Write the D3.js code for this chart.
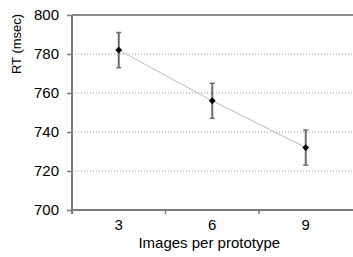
<!DOCTYPE html>
<html lang="en">
<head>
<meta charset="UTF-8">
<title>RT by images per prototype</title>
<script src="https://d3js.org/d3.v7.min.js"></script>
<style>
    body { margin: 0; background: #fff; }
    svg { display: block; font-family: "Liberation Sans", Arial, sans-serif; }
</style>
</head>
<body>
<div id="chart"></div>
<script>
    // data
    const categories = ["3", "6", "9"];
    const rt = [782, 756, 732];
    const errLow = [773, 747, 723];
    const errHigh = [791, 765, 741];
    const yTicks = [700, 720, 740, 760, 780, 800];

    const width = 353, height = 257;
    const margin = { top: 15, right: 0, bottom: 47, left: 72 };

    const svg = d3.select("#chart").append("svg")
        .attr("width", width).attr("height", height);

    const x = d3.scaleBand()
        .domain(categories)
        .range([margin.left, width - 0.5]);

    const y = d3.scaleLinear()
        .domain([700, 800])
        .range([height - margin.bottom, margin.top]);

    const axisColor = "#7a7a7a";

    // dotted grid lines
    svg.append("g")
        .selectAll("line")
        .data(yTicks.filter(d => d > 700 && d < 800))
        .enter().append("line")
        .attr("x1", margin.left).attr("x2", width)
        .attr("y1", d => y(d)).attr("y2", d => y(d))
        .attr("stroke", "#999")
        .attr("stroke-width", 1)
        .attr("stroke-dasharray", "1,2");

    // top frame line
    svg.append("line")
        .attr("x1", margin.left).attr("x2", width)
        .attr("y1", y(800)).attr("y2", y(800))
        .attr("stroke", "#8a8a8a")
        .attr("stroke-width", 2);

    // y axis
    const yAxis = svg.append("g")
        .attr("transform", `translate(${margin.left},0)`)
        .call(d3.axisLeft(y).tickValues(yTicks).tickSize(5).tickPadding(8).tickFormat(d3.format("d")));
    yAxis.select(".domain").attr("stroke", axisColor).attr("stroke-width", 2)
        .attr("d", `M0,${y(800)}V${y(700) + 4}`);
    yAxis.selectAll(".tick line").attr("stroke", axisColor).attr("stroke-width", 1.5);
    yAxis.selectAll(".tick text").attr("font-size", 15).attr("fill", "#000");

    // x axis, ticks between categories
    const xAxis = svg.append("g")
        .attr("transform", `translate(0,${y(700)})`)
        .call(d3.axisBottom(x).tickSize(0).tickPadding(9));
    xAxis.select(".domain").attr("stroke", axisColor).attr("stroke-width", 2)
        .attr("d", `M${margin.left},0H${width}`);
    xAxis.selectAll(".tick text").attr("font-size", 15).attr("fill", "#000");
    xAxis.selectAll(".sep")
        .data(categories.slice(1))
        .enter().append("line")
        .attr("class", "sep")
        .attr("x1", d => x(d)).attr("x2", d => x(d))
        .attr("y1", 0).attr("y2", 4)
        .attr("stroke", axisColor).attr("stroke-width", 1.5);

    // axis titles
    svg.append("text")
        .attr("x", x("6") + x.bandwidth() / 2 - 3)
        .attr("y", 248)
        .attr("text-anchor", "middle")
        .attr("font-size", 15)
        .text("Images per prototype");

    svg.append("text")
        .attr("transform", "translate(21,44) rotate(-90)")
        .attr("text-anchor", "middle")
        .attr("font-size", 13)
        .text("RT (msec)");

    const cx = i => x(categories[i]) + x.bandwidth() / 2;

    // connecting line
    svg.append("path")
        .datum(rt)
        .attr("fill", "none")
        .attr("stroke", "#bdbdbd")
        .attr("stroke-width", 1)
        .attr("d", d3.line().x((d, i) => cx(i)).y(d => y(d)));

    // error bars
    const eb = svg.append("g").attr("stroke", "#6e6e6e").attr("stroke-width", 2);
    rt.forEach((v, i) => {
        eb.append("line")
            .attr("x1", cx(i)).attr("x2", cx(i))
            .attr("y1", y(errLow[i])).attr("y2", y(errHigh[i]));
        eb.append("line")
            .attr("x1", cx(i) - 2.5).attr("x2", cx(i) + 2.5)
            .attr("y1", y(errHigh[i])).attr("y2", y(errHigh[i]))
            .attr("stroke-width", 1.5);
        eb.append("line")
            .attr("x1", cx(i) - 2.5).attr("x2", cx(i) + 2.5)
            .attr("y1", y(errLow[i])).attr("y2", y(errLow[i]))
            .attr("stroke-width", 1.5);
    });

    // diamond markers
    svg.append("g")
        .selectAll("path")
        .data(rt)
        .enter().append("path")
        .attr("transform", (d, i) => `translate(${cx(i)},${y(d)})`)
        .attr("d", d3.symbol().type(d3.symbolDiamond2).size(30))
        .attr("fill", "#000");
</script>
</body>
</html>
